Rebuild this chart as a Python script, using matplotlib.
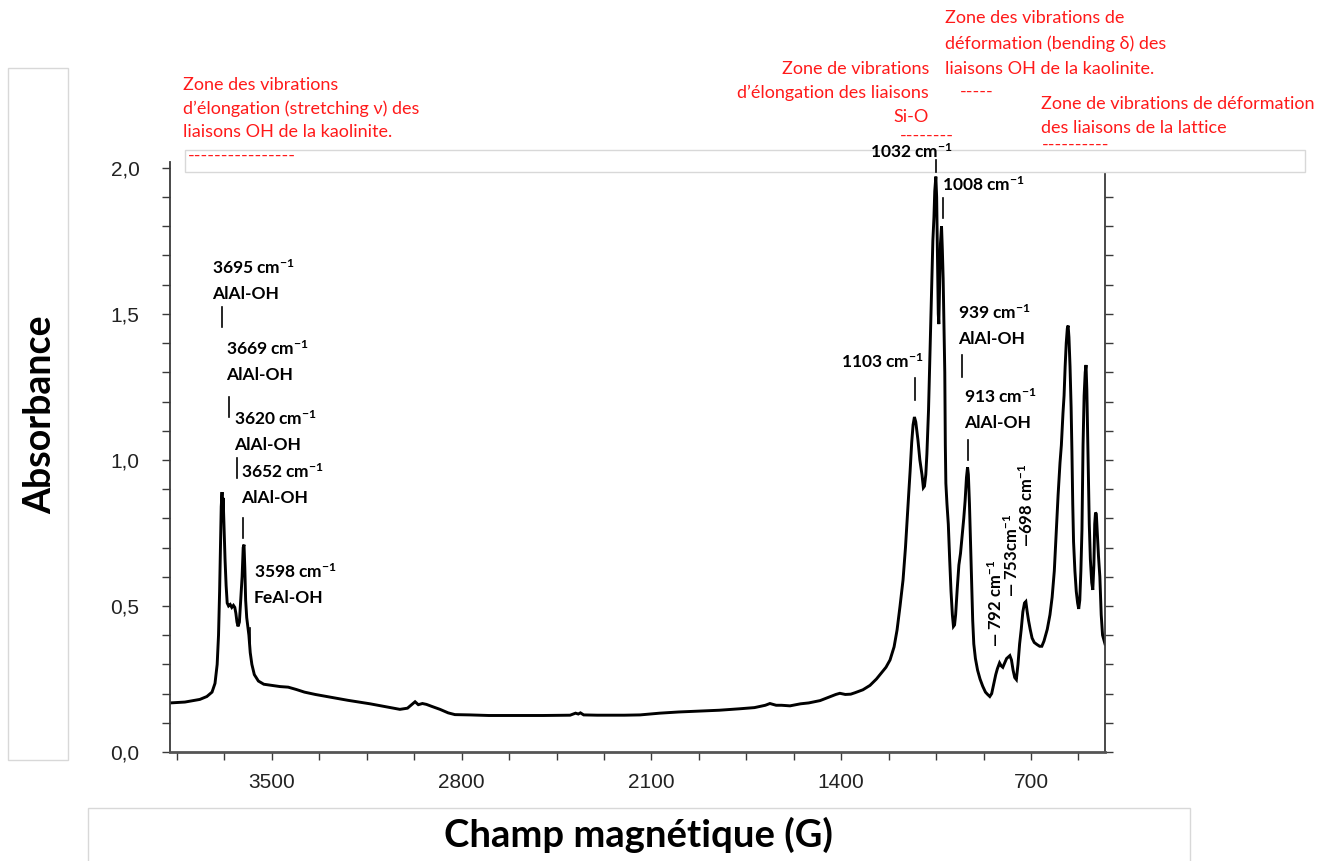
import matplotlib
matplotlib.use("Agg")
import matplotlib.pyplot as plt
from matplotlib.patches import Rectangle
from matplotlib.lines import Line2D
from matplotlib.ticker import MultipleLocator, FuncFormatter

plt.rcParams["mathtext.fontset"] = "custom"
plt.rcParams["mathtext.rm"] = "Lato:bold"
plt.rcParams["mathtext.bf"] = "Lato:bold"
plt.rcParams["mathtext.it"] = "Lato:bold"

# ---------------- data ----------------
wavenumber = [
    3876, 3821, 3766, 3740, 3721, 3710, 3702, 3697, 3693, 3690, 3687, 3684, 3682, 3680,
    3677, 3673, 3669, 3665, 3660, 3654, 3648, 3642, 3637, 3633, 3629, 3625, 3620, 3615,
    3610, 3606, 3603, 3600, 3597, 3593, 3589, 3585, 3580, 3574, 3565, 3550, 3530, 3500,
    3470, 3440, 3410, 3380, 3340, 3286, 3220, 3138, 3080, 3028, 3000, 2985, 2972, 2960,
    2945, 2930, 2910, 2880, 2850, 2825, 2770, 2700, 2600, 2500, 2400, 2380, 2370, 2362,
    2350, 2300, 2200, 2142, 2069, 2000, 1921, 1850, 1774, 1720, 1680, 1663, 1640, 1620,
    1589, 1550, 1520, 1478, 1440, 1420, 1405, 1385, 1365, 1349, 1320, 1294, 1270, 1257,
    1235, 1220, 1205, 1194, 1183, 1172, 1163, 1157, 1150, 1146, 1140, 1135, 1130, 1125,
    1117, 1110, 1102, 1097, 1093, 1088, 1084, 1078, 1073, 1067, 1062, 1058, 1055, 1051,
    1048, 1045, 1042, 1040, 1037, 1034, 1030, 1027, 1024, 1021, 1018, 1016, 1014, 1010,
    1005, 1000, 995, 990, 986, 982, 978, 972, 966, 960, 954, 948, 943, 938, 934, 931,
    927, 923, 919, 915, 911, 905, 897, 888, 878, 868, 860, 852, 845, 838, 830, 824, 816,
    810, 804, 797, 790, 784, 778, 772, 766, 760, 754, 748, 742, 736, 730, 724, 719, 714,
    709, 703, 696, 688, 678, 668, 660, 652, 640, 630, 622, 614, 608, 600, 593, 588, 582,
    578, 574, 570, 566, 563, 560, 556, 552, 549, 546, 543, 538, 533, 528, 524, 520, 516,
    512, 508, 504, 500, 497, 494, 491, 488, 485, 481, 476, 472, 468, 465, 462, 459, 456,
    451, 446, 441, 436, 430, 427,
]
absorbance = [
    0.168, 0.171, 0.180, 0.190, 0.205, 0.235, 0.300, 0.400, 0.550, 0.700, 0.840, 0.890, 0.800, 0.870,
    0.780, 0.660, 0.570, 0.510, 0.500, 0.505, 0.495, 0.502, 0.495, 0.475, 0.445, 0.430, 0.445, 0.520,
    0.600, 0.700, 0.710, 0.630, 0.520, 0.460, 0.430, 0.400, 0.340, 0.300, 0.265, 0.243, 0.232, 0.228,
    0.224, 0.222, 0.214, 0.205, 0.197, 0.188, 0.177, 0.165, 0.155, 0.146, 0.150, 0.162, 0.172, 0.162,
    0.166, 0.163, 0.156, 0.146, 0.134, 0.128, 0.127, 0.125, 0.125, 0.125, 0.126, 0.133, 0.130, 0.134,
    0.127, 0.126, 0.126, 0.127, 0.133, 0.137, 0.140, 0.143, 0.148, 0.152, 0.160, 0.166, 0.160, 0.160,
    0.158, 0.165, 0.168, 0.176, 0.190, 0.197, 0.201, 0.197, 0.198, 0.203, 0.213, 0.228, 0.250, 0.265,
    0.290, 0.315, 0.360, 0.418, 0.500, 0.589, 0.700, 0.795, 0.900, 0.960, 1.060, 1.120, 1.147, 1.130,
    1.068, 1.000, 0.949, 0.905, 0.910, 0.950, 1.020, 1.170, 1.350, 1.580, 1.750, 1.830, 1.920, 1.970,
    1.900, 1.700, 1.500, 1.465, 1.600, 1.740, 1.800, 1.720, 1.620, 1.450, 1.300, 1.050, 0.920, 0.850,
    0.780, 0.660, 0.550, 0.470, 0.430, 0.435, 0.470, 0.560, 0.640, 0.680, 0.740, 0.800, 0.860, 0.940, 0.975, 0.950,
    0.850, 0.720, 0.600, 0.450, 0.370, 0.320, 0.280, 0.250, 0.225, 0.205, 0.197, 0.190, 0.200, 0.230, 0.265, 0.285, 0.305,
    0.295, 0.290, 0.305, 0.320, 0.325, 0.330, 0.315, 0.280, 0.255, 0.248, 0.300, 0.370, 0.420, 0.480, 0.510, 0.515, 0.480,
    0.450, 0.420, 0.390, 0.375, 0.368, 0.362, 0.362, 0.380, 0.420, 0.470, 0.530, 0.620, 0.730, 0.880, 0.990, 1.050, 1.160,
    1.220, 1.320, 1.400, 1.450, 1.460, 1.420, 1.320, 1.180, 1.030, 0.850, 0.720, 0.620, 0.550, 0.510, 0.490, 0.520, 0.620,
    0.760, 1.050, 1.220, 1.300, 1.325, 1.240, 1.080, 0.920, 0.780, 0.660, 0.580, 0.555, 0.640, 0.780, 0.820, 0.815, 0.760,
    0.670, 0.600, 0.470, 0.400, 0.380, 0.370,
]

x_ticks = [3500, 2800, 2100, 1400, 700]
y_ticks = [0.0, 0.5, 1.0, 1.5, 2.0]

# peak labels: (number, second line, wavenumber of text left, absorbance of first line centre)
peak_labels = [
    ("3695", "AlAl-OH", 3721, 1.658),
    ("3669", "AlAl-OH", 3670, 1.380),
    ("3620", "AlAl-OH", 3640, 1.140),
    ("3652", "AlAl-OH", 3614, 0.959),
    ("3598", "FeAl-OH", 3566, 0.616),
    ("939", "AlAl-OH", 969, 1.503),
    ("913", "AlAl-OH", 947, 1.216),
    ("1008", None, 1028, 1.942),
    ("1103", None, 1401, 1.336),
    ("1032", None, 1294, 2.055),
]
# peak marker lines: (wavenumber, absorbance from, absorbance to)
peak_marks = [
    (3684, 1.455, 1.524), (3659, 1.147, 1.216), (3629, 0.938, 1.007),
    (3607, 0.733, 0.801), (3581, 0.360, 0.425), (1051, 1.986, 2.027),
    (1025, 1.829, 1.897), (1128, 1.205, 1.281), (955, 1.284, 1.360),
    (933, 1.000, 1.068),
]
# rotated labels: (text, wavenumber centre, absorbance bottom)
rot_labels = [
    ("\u2014 792 cm$^{-1}$", 831, 0.360),
    ("\u2014 753cm$^{-1}$", 772, 0.531),
    ("\u2014698 cm$^{-1}$", 716, 0.702),
]

W, H = 1338, 861
fig = plt.figure(figsize=(W / 100, H / 100), dpi=100)
fig.patch.set_facecolor("white")

def fx(px):
    return px / W

def fy(py):
    return 1 - py / H

ax = fig.add_axes([fx(170), fy(752), fx(1105) - fx(170), (752 - 162) / H])
ax.plot(wavenumber, absorbance, color="black", lw=2.1, solid_joinstyle="miter")
ax.set_xlim(3876, 427)
ax.set_ylim(0, 2.02)

ax.spines["top"].set_visible(False)
for s in ["left", "bottom", "right"]:
    ax.spines[s].set_color("#3a3a3a")
    ax.spines[s].set_linewidth(1.3)
ax.spines["bottom"].set_linewidth(2.0)
ax.spines["bottom"].set_color("#555555")

ax.xaxis.set_minor_locator(MultipleLocator(175))
ax.set_xticks(x_ticks)
ax.yaxis.set_minor_locator(MultipleLocator(0.1))
ax.set_yticks(y_ticks)
ax.yaxis.set_major_formatter(FuncFormatter(lambda v, p: f"{v:.1f}".replace(".", ",")))
ax.tick_params(axis="both", which="both", direction="out", colors="#3a3a3a", width=1.0, length=6)
ax.tick_params(axis="y", which="both", right=True, labelright=False)
ax.tick_params(axis="y", which="major", pad=16, labelsize=15, labelcolor="#222222")
ax.tick_params(axis="x", which="major", pad=9, labelsize=15, labelcolor="#222222")
for lab in ax.get_xticklabels() + ax.get_yticklabels():
    lab.set_fontfamily("Liberation Sans")

# label boxes
box_col = "#d8d8d8"
fig.add_artist(Rectangle((8, H - 760), 60, 692, transform=None, facecolor="white",
                         edgecolor=box_col, lw=1.0, zorder=1))
fig.add_artist(Rectangle((88, -3), 1102, H - 808 + 3, transform=None, facecolor="white",
                         edgecolor=box_col, lw=1.0, zorder=1))
fig.add_artist(Rectangle((185, H - 172), 1120, 22, transform=None, facecolor="white",
                         edgecolor=box_col, lw=1.0, zorder=2))

fig.text(fx(40), fy(415), "Absorbance", rotation=90, ha="center", va="center",
         fontsize=27, fontweight="bold", family="Lato", zorder=3)
fig.text(fx(638), fy(835), "Champ magnétique (G)", ha="center", va="center",
         fontsize=27.5, fontweight="bold", family="Lato", zorder=3)

# red zone annotations: (text, x px, y px, ha)
red = "#ff1a1a"
red_lines = [
    ("Zone des vibrations", 183, 85, "left"),
    ("d\u2019élongation (stretching \u03bd) des", 183, 109, "left"),
    ("liaisons OH de la kaolinite.", 183, 132, "left"),
    ("----------------", 188, 156, "left"),
    ("Zone de vibrations", 929, 69, "right"),
    ("d\u2019élongation des liaisons", 929, 93, "right"),
    ("Si-O", 929, 117, "right"),
    ("--------", 900, 136, "left"),
    ("Zone des vibrations de", 945, 18, "left"),
    ("déformation (bending \u03b4) des", 945, 44, "left"),
    ("liaisons OH de la kaolinite.", 945, 69, "left"),
    ("-----", 960, 92, "left"),
    ("Zone de vibrations de déformation", 1041, 104, "left"),
    ("des liaisons de la lattice", 1041, 128, "left"),
    ("----------", 1042, 145, "left"),
]
for t, x, y, ha in red_lines:
    fig.text(fx(x), fy(y), t, ha=ha, va="center", color=red, fontsize=13,
             family=["Lato", "DejaVu Sans"], zorder=4)

# black peak annotations (data coordinates)
line_gap = 0.09
for num, sub, wx, ay in peak_labels:
    fig.text(wx, ay, f"{num} cm$^{{-1}}$", transform=ax.transData, ha="left", va="center",
             fontsize=12.5, fontweight="bold", family="Lato", zorder=5)
    if sub:
        fig.text(wx, ay - line_gap, sub, transform=ax.transData, ha="left", va="center",
                 fontsize=12.5, fontweight="bold", family="Lato", zorder=5)
for wx, a0, a1 in peak_marks:
    fig.add_artist(Line2D([wx, wx], [a0, a1], transform=ax.transData, color="black",
                          lw=1.2, zorder=5))
for t, wx, ab in rot_labels:
    fig.text(wx, ab, t, transform=ax.transData, rotation=90, ha="center", va="bottom",
             fontsize=12, fontweight="bold", family="Lato", zorder=5)

fig.savefig("out.png", dpi=100)
